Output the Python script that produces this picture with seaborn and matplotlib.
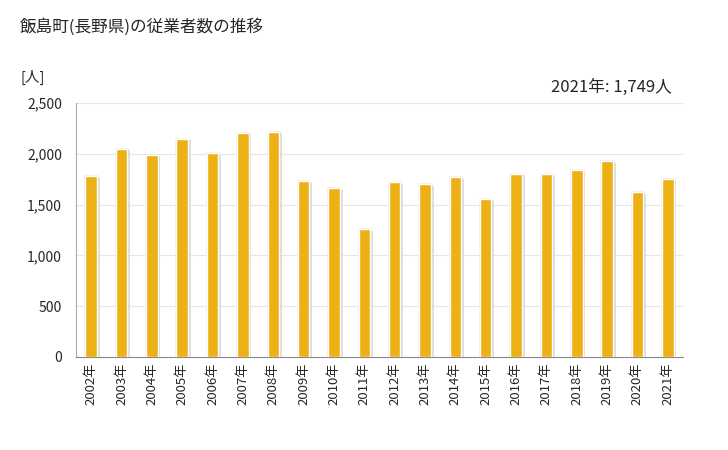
import matplotlib
matplotlib.use("Agg")
import matplotlib.pyplot as plt
import matplotlib.patheffects as pe
from matplotlib.ticker import FuncFormatter, MultipleLocator
import seaborn as sns
import pandas as pd

years = ["2002年", "2003年", "2004年", "2005年", "2006年", "2007年", "2008年",
         "2009年", "2010年", "2011年", "2012年", "2013年", "2014年", "2015年",
         "2016年", "2017年", "2018年", "2019年", "2020年", "2021年"]
workers = [1777, 2052, 1993, 2150, 2003, 2209, 2219, 1728, 1660, 1258,
           1718, 1699, 1767, 1552, 1806, 1806, 1836, 1927, 1620, 1749]

df = pd.DataFrame({"year": years, "workers": workers})

sns.set_style("white")
plt.rcParams["font.family"] = ["Noto Sans CJK JP", "DejaVu Sans"]

fig = plt.figure(figsize=(7.28, 4.5), dpi=100)
ax = fig.add_axes([76 / 728, 1 - 357 / 450, 607 / 728, 254 / 450])

sns.barplot(data=df, x="year", y="workers", color="#EDB015", width=0.38,
            saturation=1, ax=ax, zorder=3)
for p in ax.patches:
    p.set_path_effects([pe.Stroke(linewidth=1.8, foreground="#ececec"),
                        pe.SimplePatchShadow(offset=(2, -1), shadow_rgbFace="#d0d0d0", alpha=0.7),
                        pe.Normal()])

ax.set_xlim(-0.5, len(years) - 0.5)
ax.set_ylim(0, 2500)
ax.yaxis.set_major_locator(MultipleLocator(500))
ax.yaxis.set_major_formatter(FuncFormatter(lambda v, _: f"{int(v):,}"))
ax.grid(axis="y", color="#e6e6e6", linewidth=0.8, zorder=0)
ax.set_xlabel("")
ax.set_ylabel("")

for s in ["top", "right"]:
    ax.spines[s].set_visible(False)
ax.spines["left"].set_color("#aaaaaa")
ax.spines["bottom"].set_color("#888888")

ax.set_xticks([i - 0.5 for i in range(len(years) + 1)], minor=True)
ax.tick_params(axis="x", which="major", length=0, labelsize=9.5, rotation=90, pad=4)
ax.tick_params(axis="x", which="minor", length=4, color="#888888")
ax.tick_params(axis="y", length=4, color="#aaaaaa", labelsize=10, pad=6)

fig.text(20 / 728, 1 - 27 / 450, "飯島町(長野県)の従業者数の推移", fontsize=12, va="center")
fig.text(20 / 728, 1 - 77 / 450, "[人]", fontsize=10.5, va="center")
fig.text(672 / 728, 1 - 87 / 450, f"2021年: {workers[-1]:,}人", fontsize=12,
         va="center", ha="right")

fig.savefig("out.png", dpi=100)
